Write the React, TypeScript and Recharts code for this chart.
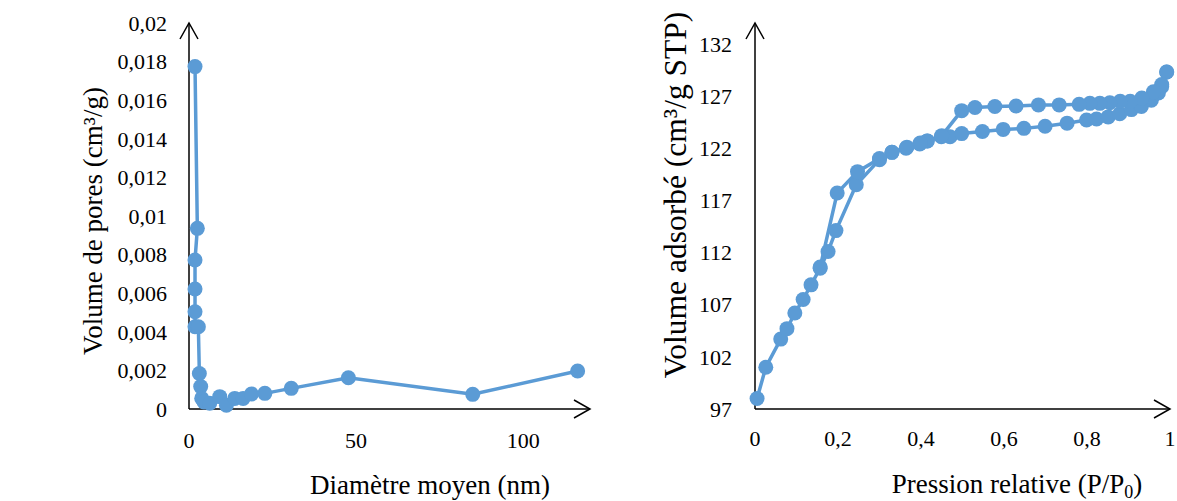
import React from 'react';
import { LineChart, Line, XAxis, YAxis } from 'recharts';

// Distribution BJH (gauche)
const poreDiameter = [1.8, 2.5, 1.8, 1.8, 1.8, 1.8, 2.8, 3.1, 3.5, 3.8, 4.5, 6.2, 9.2, 11.2, 13.7, 16.2, 18.7, 22.7, 30.6, 47.7, 84.9, 116.3];
const poreVolume = [0.01774, 0.00936, 0.00772, 0.00622, 0.00504, 0.00426, 0.00426, 0.00184, 0.00116, 0.00055, 0.00036, 0.0003, 0.00064, 0.0002, 0.00055, 0.00055, 0.00078, 0.00081, 0.00107, 0.00162, 0.00076, 0.00197];

// Isotherme (droite) : adsorption puis désorption
const adsPressure = [0.005, 0.026, 0.062, 0.077, 0.096, 0.116, 0.135, 0.157, 0.176, 0.195, 0.244, 0.3, 0.33, 0.364, 0.397, 0.415, 0.449, 0.47, 0.498, 0.548, 0.598, 0.648, 0.699, 0.752, 0.799, 0.823, 0.851, 0.879, 0.907, 0.931, 0.955, 0.972, 0.98, 0.992];
const adsVolume = [98.0, 101.0, 103.7, 104.7, 106.2, 107.5, 108.9, 110.5, 112.1, 114.1, 118.5, 120.9, 121.6, 122.0, 122.4, 122.7, 123.1, 123.1, 123.4, 123.6, 123.8, 123.9, 124.1, 124.4, 124.7, 124.8, 125.0, 125.3, 125.7, 126.0, 126.6, 127.3, 127.9, 129.3];
const desPressure = [0.992, 0.98, 0.96, 0.932, 0.904, 0.88, 0.855, 0.831, 0.807, 0.781, 0.733, 0.683, 0.629, 0.578, 0.53, 0.498, 0.45, 0.415, 0.398, 0.366, 0.33, 0.3, 0.247, 0.198, 0.157];
const desVolume = [129.3, 128.1, 127.4, 126.8, 126.5, 126.5, 126.35, 126.3, 126.3, 126.2, 126.15, 126.15, 126.05, 126.0, 125.9, 125.6, 123.2, 122.7, 122.5, 122.1, 121.6, 121.0, 119.75, 117.7, 110.6];

const diameterTicks = [0, 50, 100];
const volumeTicks = [0, 0.002, 0.004, 0.006, 0.008, 0.01, 0.012, 0.014, 0.016, 0.018, 0.02];
const pressureTicks = [0, 0.2, 0.4, 0.6, 0.8, 1];
const adsorbedTicks = [97, 102, 107, 112, 117, 122, 127, 132];

const BLUE = '#5B9BD5';
const SERIF = '"Liberation Serif", "Times New Roman", serif';

const comma = (v: number) => String(v).replace('.', ',');

const poreData = poreDiameter.map((x, i) => ({ x, y: poreVolume[i] }));
const adsData = adsPressure.map((x, i) => ({ x, y: adsVolume[i] }));
const desData = desPressure.map((x, i) => ({ x, y: desVolume[i] }));

const tickStyle = { fill: '#000', fontSize: 22, fontFamily: SERIF };
const dotStyle = { r: 7.5, fill: BLUE, stroke: BLUE, strokeWidth: 0 };
const xLine = { stroke: '#000', strokeWidth: 1.5, markerEnd: 'url(#arrowEnd)' };
const yLine = { stroke: '#000', strokeWidth: 1.5, markerStart: 'url(#arrowStart)' };

const title = (x: number, y: number, size: number, angle: number, content: React.ReactNode) => () => (
  <text
    x={x}
    y={y}
    textAnchor="middle"
    fontSize={size}
    fontFamily={SERIF}
    fill="#000"
    transform={angle ? `rotate(${angle} ${x} ${y})` : undefined}
  >
    {content}
  </text>
);

const App = () => (
  <div style={{ position: 'relative', width: 1177, height: 501, fontFamily: SERIF, background: '#fff' }}>
    <style>{'body{margin:0}'}</style>
    <svg width={0} height={0} style={{ position: 'absolute' }}>
      <defs>
        <marker id="arrowEnd" markerUnits="userSpaceOnUse" markerWidth={20} markerHeight={22} refX={17} refY={10} orient="auto">
          <path d="M1,1 L17,10 L1,19" fill="none" stroke="#000" strokeWidth={1.5} />
        </marker>
        <marker id="arrowStart" markerUnits="userSpaceOnUse" markerWidth={20} markerHeight={22} refX={17} refY={10} orient="auto-start-reverse">
          <path d="M1,1 L17,10 L1,19" fill="none" stroke="#000" strokeWidth={1.5} />
        </marker>
      </defs>
    </svg>

    <div style={{ position: 'absolute', left: 0, top: 0 }}>
      <LineChart width={600} height={501} data={poreData} margin={{ top: 23, right: 10, bottom: 0, left: 0 }}>
        <XAxis
          type="number"
          dataKey="x"
          domain={[0, 120]}
          ticks={diameterTicks}
          interval={0}
          height={92}
          tickSize={0}
          tickMargin={23}
          tickLine={false}
          axisLine={xLine}
          tick={tickStyle}
          label={title(430, 494, 27, 0, 'Diamètre moyen (nm)')}
        />
        <YAxis
          type="number"
          domain={[0, 0.02]}
          ticks={volumeTicks}
          interval={0}
          width={189}
          tickSize={0}
          tickMargin={22}
          tickLine={false}
          axisLine={yLine}
          tick={tickStyle}
          tickFormatter={comma}
          label={title(102, 221, 27, -90, 'Volume de pores (cm³/g)')}
        />
        <Line
          type="linear"
          dataKey="y"
          stroke={BLUE}
          strokeWidth={3.5}
          dot={dotStyle}
          activeDot={false}
          isAnimationActive={false}
        />
      </LineChart>
    </div>

    <div style={{ position: 'absolute', left: 600, top: 0 }}>
      <LineChart width={577} height={501} margin={{ top: 23, right: 7, bottom: 0, left: 0 }}>
        <XAxis
          type="number"
          dataKey="x"
          domain={[0, 1]}
          ticks={pressureTicks}
          interval={0}
          height={92}
          tickSize={0}
          tickMargin={21}
          tickLine={false}
          axisLine={xLine}
          tick={tickStyle}
          tickFormatter={comma}
          label={title(417, 493, 27, 0, (
            <>
              Pression relative (P/P
              <tspan fontSize={18} dy={5}>0</tspan>
              <tspan dy={-5}>)</tspan>
            </>
          ))}
        />
        <YAxis
          type="number"
          domain={[97, 134]}
          ticks={adsorbedTicks}
          interval={0}
          width={155}
          tickSize={0}
          tickMargin={23}
          tickLine={false}
          axisLine={yLine}
          tick={tickStyle}
          label={title(86, 195, 31.5, -90, 'Volume adsorbé (cm³/g STP)')}
        />
        <Line
          data={adsData}
          type="linear"
          dataKey="y"
          stroke={BLUE}
          strokeWidth={3.5}
          dot={dotStyle}
          activeDot={false}
          isAnimationActive={false}
        />
        <Line
          data={desData}
          type="linear"
          dataKey="y"
          stroke={BLUE}
          strokeWidth={3.5}
          dot={dotStyle}
          activeDot={false}
          isAnimationActive={false}
        />
      </LineChart>
    </div>
  </div>
);

export default App;
